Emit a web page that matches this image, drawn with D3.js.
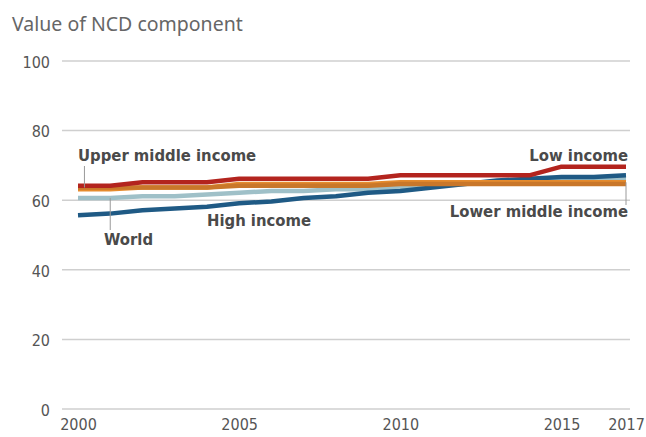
<!DOCTYPE html>
<html>
<head>
<meta charset="utf-8">
<script src="https://cdn.jsdelivr.net/npm/d3@7/dist/d3.min.js"></script>
<style>
  html, body { margin: 0; padding: 0; background: #fff; }
  svg { display: block; }
</style>
</head>
<body>
<svg id="chart" width="646" height="437"></svg>
<script>
const years = [2000,2001,2002,2003,2004,2005,2006,2007,2008,2009,2010,2011,2012,2013,2014,2015,2016,2017];
const world        = [60.5,60.5,61,61,61.5,62,62.5,62.5,63,63,63.5,64,64.5,65,65,65.5,65.5,66];
const highIncome   = [55.5,56,57,57.5,58,59,59.5,60.5,61,62,62.5,63.5,64.5,65.5,66,66.5,66.5,67];
const lowerMiddle  = [63,63,63.5,63.5,63.5,64.5,64.5,64.5,64.5,64.5,65,65,65,65,65,65,65,65];
const upperMiddle  = [63.5,63.5,63.5,63.5,63.5,64,64,64,64,64,64.5,64.5,64.5,64.5,64.5,64.5,64.5,64.5];
const lowIncome    = [64,64,65,65,65,66,66,66,66,66,67,67,67,67,67,69.5,69.5,69.5];
const yTicks = [0,20,40,60,80,100];
const xTicks = [2000,2005,2010,2015,2017];

const series = [
  {name:"World", values: world, color:"#9fc0c8"},
  {name:"High income", values: highIncome, color:"#1f5a85"},
  {name:"Lower middle income", values: lowerMiddle, color:"#e58b2e"},
  {name:"Upper middle income", values: upperMiddle, color:"#c9772a"},
  {name:"Low income", values: lowIncome, color:"#b3241e"}
];

const svg = d3.select("#chart");
const x = d3.scaleLinear().domain([2000,2017]).range([78,626]);
const y = d3.scaleLinear().domain([0,100]).range([408.5,60.5]);
const gridX0 = 62, gridX1 = 630;

// title
svg.append("text").attr("x",12).attr("y",31)
  .attr("font-family","'Noto Sans', sans-serif").attr("font-size",19.5)
  .attr("fill","#666").text("Value of NCD component");

// gridlines
const yAxis = d3.axisLeft(y).tickValues(yTicks).tickSize(-(gridX1-gridX0)).tickPadding(12);
const gy = svg.append("g").attr("transform",`translate(${gridX0},0)`).call(yAxis);
gy.select(".domain").remove();
gy.selectAll(".tick line").attr("stroke","#cfcfcf").attr("stroke-width",1.5);
gy.selectAll(".tick text").attr("font-family","'DejaVu Sans Condensed', sans-serif")
  .attr("font-size",16).attr("fill","#555").attr("dy","0.42em");

const xAxis = d3.axisBottom(x).tickValues(xTicks).tickFormat(d3.format("d")).tickSize(0).tickPadding(10);
const gx = svg.append("g").attr("transform",`translate(0,${y(0)})`).call(xAxis);
gx.select(".domain").remove();
gx.selectAll(".tick text").attr("font-family","'DejaVu Sans Condensed', sans-serif")
  .attr("font-size",16).attr("fill","#555");

// lines
const line = d3.line().x((d,i)=>x(years[i])).y(d=>y(d));
svg.append("g").selectAll("path").data(series).join("path")
  .attr("d", d=>line(d.values)).attr("fill","none")
  .attr("stroke", d=>d.color).attr("stroke-width",4.5)
  .attr("stroke-linejoin","round").attr("stroke-linecap","butt");

// labels + pointers
const lab = {fam:"'DejaVu Sans Condensed', sans-serif", size:16.5, fill:"#4a4a4a"};
function label(txt, xx, yy, anchor){
  svg.append("text").attr("x",xx).attr("y",yy).attr("text-anchor",anchor)
    .attr("font-family",lab.fam).attr("font-size",lab.size).attr("font-weight","bold")
    .attr("fill",lab.fill).text(txt);
}
function pointer(xx, y1, y2){
  svg.append("line").attr("x1",xx).attr("x2",xx).attr("y1",y1).attr("y2",y2)
    .attr("stroke","#9a9a9a").attr("stroke-width",1);
}
pointer(x(2000.2), 166, y(upperMiddle[0]));
label("Upper middle income", 78, 161, "start");
pointer(x(2001), y(world[1]), 230);
label("World", 104, 245, "start");
label("High income", 207, 226, "start");
label("Low income", 628, 161, "end");
pointer(x(2017), y(lowerMiddle[17]), 205);
label("Lower middle income", 628, 217, "end");
</script>
</body>
</html>
